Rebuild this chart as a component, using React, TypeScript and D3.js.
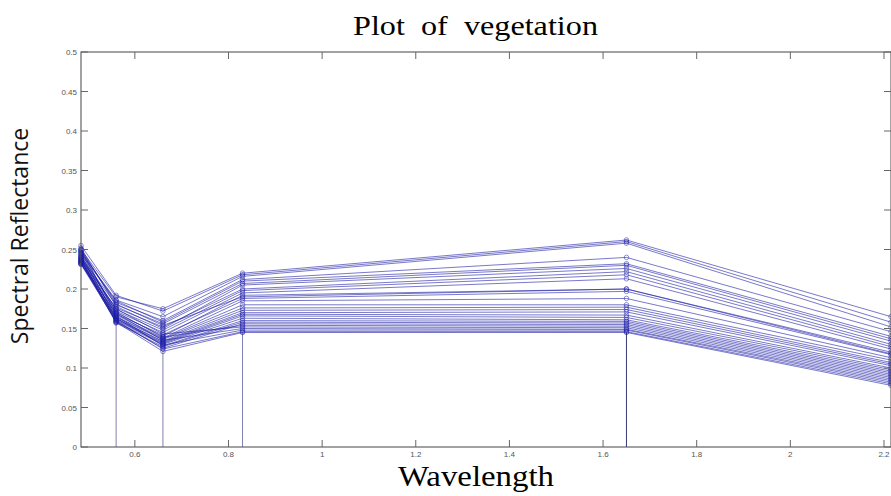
import { useRef, useEffect } from "react";
import * as d3 from "d3";

// band centre wavelengths (um)
const wavelengths = [0.485, 0.56, 0.66, 0.83, 1.65, 2.215];

// reflectance of each sample at each band
const band485 = [0.25, 0.255, 0.246, 0.248, 0.244, 0.24, 0.252, 0.238, 0.242, 0.236, 0.245, 0.234, 0.25, 0.232, 0.24, 0.235, 0.243, 0.237, 0.233, 0.239, 0.241, 0.236, 0.231, 0.247, 0.238, 0.234, 0.232, 0.237, 0.233, 0.249];
const band560 = [0.19, 0.192, 0.186, 0.183, 0.185, 0.18, 0.178, 0.176, 0.174, 0.172, 0.17, 0.168, 0.167, 0.165, 0.164, 0.162, 0.163, 0.161, 0.16, 0.158, 0.166, 0.157, 0.159, 0.171, 0.175, 0.169, 0.163, 0.16, 0.158, 0.181];
const band660 = [0.175, 0.172, 0.165, 0.16, 0.158, 0.156, 0.15, 0.152, 0.148, 0.145, 0.14, 0.142, 0.138, 0.137, 0.136, 0.134, 0.133, 0.132, 0.131, 0.13, 0.128, 0.127, 0.125, 0.139, 0.143, 0.135, 0.129, 0.124, 0.121, 0.154];
const band830 = [0.22, 0.218, 0.216, 0.212, 0.21, 0.207, 0.205, 0.2, 0.198, 0.195, 0.192, 0.188, 0.185, 0.18, 0.176, 0.173, 0.17, 0.168, 0.166, 0.163, 0.16, 0.158, 0.156, 0.154, 0.152, 0.15, 0.148, 0.146, 0.145, 0.19];
const band1650 = [0.262, 0.26, 0.258, 0.24, 0.232, 0.23, 0.226, 0.222, 0.218, 0.213, 0.2, 0.197, 0.188, 0.18, 0.177, 0.174, 0.171, 0.167, 0.164, 0.161, 0.159, 0.157, 0.155, 0.153, 0.151, 0.149, 0.148, 0.146, 0.145, 0.2];
const band2215 = [0.165, 0.158, 0.152, 0.146, 0.14, 0.137, 0.134, 0.13, 0.127, 0.124, 0.12, 0.117, 0.113, 0.11, 0.107, 0.105, 0.103, 0.1, 0.098, 0.096, 0.094, 0.092, 0.09, 0.088, 0.086, 0.084, 0.082, 0.08, 0.078, 0.118];

const xTicks = [0.6, 0.8, 1, 1.2, 1.4, 1.6, 1.8, 2, 2.2];
const yTicks = [0, 0.05, 0.1, 0.15, 0.2, 0.25, 0.3, 0.35, 0.4, 0.45, 0.5];

const W = 891;
const H = 496;

export default function App() {
  const ref = useRef<SVGSVGElement>(null);

  useEffect(() => {
    const svg = d3.select(ref.current);
    svg.selectAll("*").remove();

    const m = { top: 52, right: 0, bottom: 49, left: 81 };
    const x = d3.scaleLinear().domain([0.485, 2.215]).range([m.left, W - m.right]);
    const y = d3.scaleLinear().domain([0, 0.5]).range([H - m.bottom, m.top]);

    const bands = [band485, band560, band660, band830, band1650, band2215];
    const series = band485.map((_, i) => bands.map((b, j) => [wavelengths[j], b[i]] as [number, number]));

    const blue = "#1c1ca6";

    // stems from the axis up to the lowest point of each band
    svg
      .append("g")
      .selectAll("line")
      .data(wavelengths.slice(1, 5))
      .join("line")
      .attr("x1", (d) => x(d))
      .attr("x2", (d) => x(d))
      .attr("y1", y(0))
      .attr("y2", (d, i) => y(d3.min(bands[i + 1])!))
      .attr("stroke", (d) => (d > 1 ? "#3a3a70" : "#8080b0"))
      .attr("stroke-width", 1);

    const line = d3
      .line<[number, number]>()
      .x((d) => x(d[0]))
      .y((d) => y(d[1]));

    const g = svg.append("g");
    g.selectAll("path")
      .data(series)
      .join("path")
      .attr("d", line)
      .attr("fill", "none")
      .attr("stroke", blue)
      .attr("stroke-width", 0.7)
      .attr("stroke-opacity", 0.85);

    g.selectAll("circle")
      .data(series.flat())
      .join("circle")
      .attr("cx", (d) => x(d[0]))
      .attr("cy", (d) => y(d[1]))
      .attr("r", 2.3)
      .attr("fill", "none")
      .attr("stroke", blue)
      .attr("stroke-width", 0.6)
      .attr("stroke-opacity", 0.8);

    // axes box with inward ticks, matlab style
    const axisColor = "#444";
    const tl = 7;
    const [x0, x1] = x.range();
    const [y0, y1] = y.range();

    svg
      .append("rect")
      .attr("x", x0)
      .attr("y", y1)
      .attr("width", x1 - x0)
      .attr("height", y0 - y1)
      .attr("fill", "none")
      .attr("stroke", axisColor)
      .attr("stroke-width", 1);

    const ticks = svg.append("g").attr("stroke", "#666").attr("stroke-width", 1);
    xTicks.forEach((t) => {
      ticks.append("line").attr("x1", x(t)).attr("x2", x(t)).attr("y1", y0).attr("y2", y0 - tl);
      ticks.append("line").attr("x1", x(t)).attr("x2", x(t)).attr("y1", y1).attr("y2", y1 + tl);
    });
    yTicks.forEach((t) => {
      ticks.append("line").attr("x1", x0).attr("x2", x0 + tl).attr("y1", y(t)).attr("y2", y(t));
      ticks.append("line").attr("x1", x1).attr("x2", x1 - tl).attr("y1", y(t)).attr("y2", y(t));
    });

    const labelFont = "Liberation Sans, Arial, sans-serif";
    svg
      .append("g")
      .selectAll("text")
      .data(xTicks)
      .join("text")
      .attr("x", (d) => x(d))
      .attr("y", y0 + 10)
      .attr("text-anchor", "middle")
      .attr("font-family", labelFont)
      .attr("font-size", 8)
      .attr("fill", "#555")
      .text((d) => String(d));

    svg
      .append("g")
      .selectAll("text")
      .data(yTicks)
      .join("text")
      .attr("x", x0 - 4)
      .attr("y", (d) => y(d) + 3)
      .attr("text-anchor", "end")
      .attr("font-family", labelFont)
      .attr("font-size", 8)
      .attr("fill", "#555")
      .text((d) => String(d));

    svg
      .append("text")
      .attr("x", 353)
      .attr("y", 35)
      .attr("font-family", "Liberation Serif, Times New Roman, serif")
      .attr("font-size", 28)
      .attr("textLength", 245)
      .attr("lengthAdjust", "spacingAndGlyphs")
      .style("white-space", "pre")
      .text("Plot  of  vegetation");

    svg
      .append("text")
      .attr("x", 398)
      .attr("y", 486)
      .attr("font-family", "Liberation Serif, Times New Roman, serif")
      .attr("font-size", 29)
      .attr("textLength", 156)
      .attr("lengthAdjust", "spacingAndGlyphs")
      .text("Wavelength");

    svg
      .append("text")
      .attr("transform", "translate(28,236) rotate(-90)")
      .attr("text-anchor", "middle")
      .attr("font-family", "Open Sans, Noto Sans, sans-serif")
      .attr("font-size", 23)
      .attr("fill", "#111")
      .text("Spectral Reflectance");
  }, []);

  return (
    <div style={{ position: "fixed", left: 0, top: 0 }}>
      <svg ref={ref} width={W} height={H} style={{ display: "block", background: "#fff" }} />
    </div>
  );
}
